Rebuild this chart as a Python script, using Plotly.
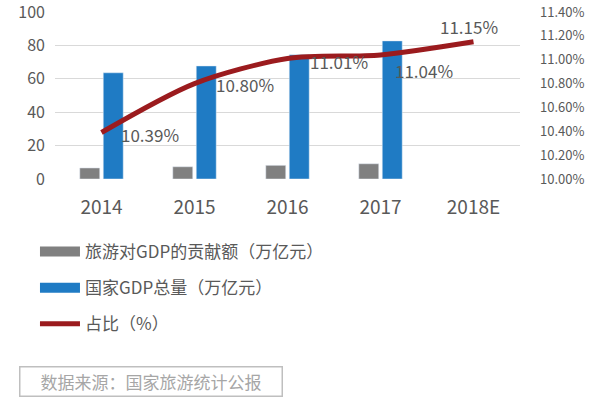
import plotly.graph_objects as go

years = ["2014", "2015", "2016", "2017", "2018E"]
tourism_gdp = [6.61, 7.34, 8.19, 9.13, None]
national_gdp = [63.6, 67.7, 74.4, 82.7, None]
share_pct = [10.39, 10.80, 11.01, 11.04, 11.15]
share_labels = ["10.39%", "10.80%", "11.01%", "11.04%", "11.15%"]
left_ticks = [0, 20, 40, 60, 80, 100]
right_ticks = [10.0, 10.2, 10.4, 10.6, 10.8, 11.0, 11.2, 11.4]

# label placement (style only)
lab_anchor = ["left", "left", "left", "left", "center"]
lab_dx = [17, 19, 20, 12, -5]
lab_dy = [-2, -1, -3, -16, 15]

GRAY = "#808080"
BLUE = "#1f7bc4"
RED = "#9b1b1e"
TXT = "#595959"
FONT = "Noto Sans CJK SC"

xs = list(range(len(years)))

fig = go.Figure()
fig.add_trace(go.Bar(x=xs, y=tourism_gdp, marker_color=GRAY, showlegend=False, name="旅游对GDP的贡献额（万亿元）"))
fig.add_trace(go.Bar(x=xs, y=national_gdp, marker_color=BLUE, showlegend=False, name="国家GDP总量（万亿元）"))
fig.add_trace(go.Scatter(x=xs, y=share_pct, yaxis="y2", mode="lines",
                         line=dict(color=RED, width=5, shape="spline", smoothing=0.8),
                         showlegend=False))
# legend entries
fig.add_trace(go.Scatter(x=[None], y=[None], mode="lines", line=dict(color=GRAY, width=10),
                         name="旅游对GDP的贡献额（万亿元）", legendgroup="a"))
fig.add_trace(go.Scatter(x=[None], y=[None], mode="lines", line=dict(color=BLUE, width=10),
                         name="国家GDP总量（万亿元）", legendgroup="b"))
fig.add_trace(go.Scatter(x=[None], y=[None], mode="lines", line=dict(color=RED, width=5),
                         name="占比（%）", legendgroup="c"))

for x, y, t, a, dx, dy in zip(xs, share_pct, share_labels, lab_anchor, lab_dx, lab_dy):
    fig.add_annotation(x=x, y=y, xref="x", yref="y2", text=t, showarrow=False,
                       xanchor=a, yanchor="middle", xshift=dx, yshift=dy,
                       font=dict(size=17, color=TXT, family=FONT))

fig.update_layout(
    width=600, height=400,
    margin=dict(l=55, r=80, t=12, b=221, autoexpand=False),
    paper_bgcolor="white", plot_bgcolor="white",
    barmode="group", bargap=0.495, bargroupgap=0.15,
    font=dict(family=FONT, color=TXT),
    xaxis=dict(range=[-0.5, 4.5], tickvals=xs, ticktext=years, showgrid=False, zeroline=False,
               ticks="", tickangle=0, tickfont=dict(size=19, color=TXT, family=FONT),
               ticklabelstandoff=15),
    yaxis=dict(range=[0, 100], tickvals=left_ticks, showgrid=True, gridcolor="#d9d9d9", gridwidth=1,
               zeroline=False, ticks="", tickfont=dict(size=16, color=TXT), ticklabelstandoff=9,
               ticklabeloverflow="allow"),
    yaxis2=dict(range=[10.0, 11.4], overlaying="y", side="right", tickvals=right_ticks,
                ticktext=[f"{v:.2f}%" for v in right_ticks], showgrid=False, zeroline=False,
                ticks="", tickfont=dict(size=13, color=TXT), ticklabelstandoff=19,
                ticklabeloverflow="allow"),
    legend=dict(xref="container", yref="container", x=0.0583, y=0.415, xanchor="left", yanchor="top",
                font=dict(size=17, color=TXT, family=FONT), traceorder="grouped", tracegroupgap=11,
                itemwidth=40, bgcolor="rgba(0,0,0,0)"),
)
fig.add_annotation(xref="paper", yref="paper", x=-0.0774, y=-1.2096, xanchor="left", yanchor="middle",
                   text="数据来源：国家旅游统计公报", showarrow=False,
                   font=dict(size=17, color="#a6a6a6", family=FONT),
                   bordercolor="#bfbfbf", borderwidth=1.5, borderpad=3, width=255, height=22, align="center")

fig.write_html("out.html", config={"displayModeBar": False},
               post_script="document.body.style.margin='0';document.body.style.overflow='hidden';")
